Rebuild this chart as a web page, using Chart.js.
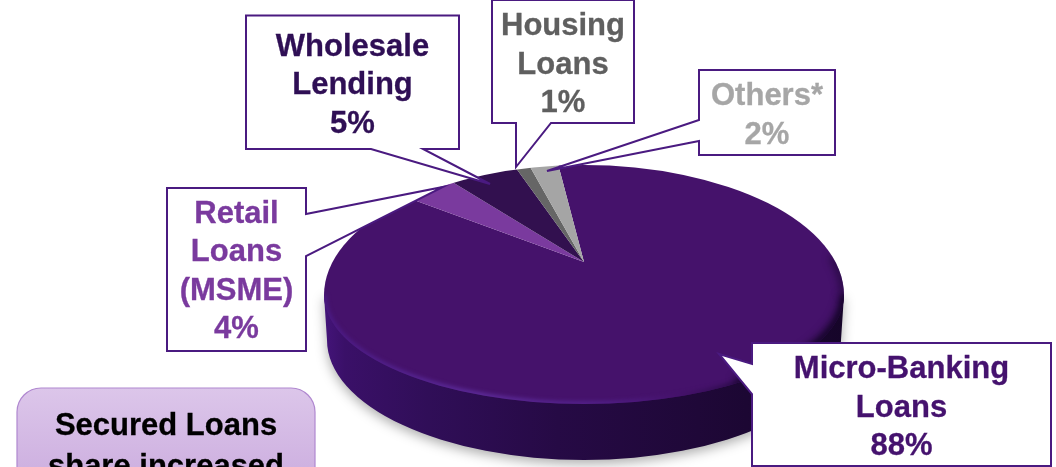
<!DOCTYPE html>
<html>
<head>
<meta charset="utf-8">
<style>
html,body{margin:0;padding:0;background:#fff;overflow:hidden}
canvas{display:block}
</style>
<script src="https://cdn.jsdelivr.net/npm/chart.js@4"></script>
</head>
<body>
<canvas id="c" width="1056" height="467"></canvas>
<script>
const categories = ["Micro-Banking Loans", "Retail Loans (MSME)", "Wholesale Lending", "Housing Loans", "Others*"];
const values = [88, 4, 5, 1, 2];
const sliceColors = ["#45126b", "#7a3a9e", "#32104f", "#666666", "#a5a5a5"];
const textColors = ["#45126e", "#7a3a9e", "#2f0f55", "#5f5f5f", "#a6a6a6"];
const labelLines = [["Micro-Banking", "Loans"], ["Retail", "Loans", "(MSME)"], ["Wholesale", "Lending"], ["Housing", "Loans"], ["Others*"]];
const noteLines = ["Secured Loans", "share increased"];

// Callout shapes: box corners, tail points, first baseline
const callouts = [
  {box:[752,343,1051,466], tail:[[752,364],[719,354],[752,394]], side:"left", base:378},
  {box:[167,188,306,351], tail:[[306,214],[443,187],[306,256]], side:"right", base:222.5},
  {box:[246,15.5,459,149], tail:[[371,149],[490,184],[423,149]], side:"bottom", base:55.5},
  {box:[492,0,634,123], tail:[[516,123],[516,167],[551,123]], side:"bottom", base:35},
  {box:[699,70,835,155], tail:[[699,120],[547,171],[699,141]], side:"left", base:105}
];

const FACE = {cx:584, cy:295, rx:260, ryTop:130, ryBottom:109};
const APEX = {x:584, y:262, squash:0.43};
const WALL = {cy:340, rx:257, ry:120};

function facePath(ctx){
  ctx.beginPath();
  ctx.ellipse(FACE.cx, FACE.cy, FACE.rx, FACE.ryTop, 0, Math.PI, 2*Math.PI);
  ctx.ellipse(FACE.cx, FACE.cy, FACE.rx, FACE.ryBottom, 0, 0, Math.PI);
  ctx.closePath();
}

function wall(ctx){
  const g = ctx.createLinearGradient(324,0,843,0);
  g.addColorStop(0,"#44147a");
  g.addColorStop(0.04,"#3a1068");
  g.addColorStop(0.2,"#300e58");
  g.addColorStop(0.45,"#260a45");
  g.addColorStop(0.72,"#1f0838");
  g.addColorStop(1,"#160529");
  ctx.save();
  ctx.shadowColor="rgba(0,0,0,0.32)";
  ctx.shadowBlur=12;
  ctx.shadowOffsetY=4;
  ctx.fillStyle=g;
  ctx.beginPath();
  ctx.moveTo(FACE.cx-FACE.rx, FACE.cy);
  ctx.lineTo(FACE.cx-WALL.rx, WALL.cy);
  ctx.ellipse(FACE.cx, WALL.cy, WALL.rx, WALL.ry, 0, Math.PI, 0, true);
  ctx.lineTo(FACE.cx+FACE.rx, FACE.cy);
  ctx.closePath();
  ctx.fill();
  ctx.restore();
}

function bevel(ctx){
  ctx.save();
  facePath(ctx);
  ctx.clip();
  ctx.filter="blur(2px)";
  const g = ctx.createLinearGradient(324,0,843,0);
  g.addColorStop(0,"#4a1a85");
  g.addColorStop(0.3,"#5f2e9e");
  g.addColorStop(0.55,"#52208a");
  g.addColorStop(0.68,"#45126b");
  g.addColorStop(0.8,"#2a0b48");
  g.addColorStop(1,"#160529");
  ctx.strokeStyle=g;
  ctx.lineWidth=5;
  ctx.beginPath();
  ctx.ellipse(FACE.cx, FACE.cy, FACE.rx, FACE.ryBottom, 0, 0, Math.PI);
  ctx.stroke();
  ctx.filter="blur(4px)";
  ctx.strokeStyle="#1a0630";
  ctx.lineWidth=9;
  ctx.beginPath();
  ctx.ellipse(FACE.cx, FACE.cy, FACE.rx, FACE.ryBottom, 0, 0, 0.95);
  ctx.stroke();
  ctx.lineWidth=5;
  ctx.beginPath();
  ctx.ellipse(FACE.cx, FACE.cy, FACE.rx, FACE.ryTop, 0, -0.3, 0);
  ctx.stroke();
  ctx.restore();
}

function drawCallout(ctx, i){
  const c = callouts[i];
  const [x0,y0,x1,y1] = c.box;
  const [a,t,b] = c.tail;
  ctx.save();
  ctx.beginPath();
  ctx.moveTo(x0,y0);
  if(c.side==="bottom"){
    ctx.lineTo(x1,y0);ctx.lineTo(x1,y1);
    ctx.lineTo(b[0],b[1]);ctx.lineTo(t[0],t[1]);ctx.lineTo(a[0],a[1]);
    ctx.lineTo(x0,y1);
  } else if(c.side==="right"){
    ctx.lineTo(x1,y0);
    ctx.lineTo(a[0],a[1]);ctx.lineTo(t[0],t[1]);ctx.lineTo(b[0],b[1]);
    ctx.lineTo(x1,y1);ctx.lineTo(x0,y1);
  } else {
    ctx.lineTo(x1,y0);ctx.lineTo(x1,y1);ctx.lineTo(x0,y1);
    ctx.lineTo(b[0],b[1]);ctx.lineTo(t[0],t[1]);ctx.lineTo(a[0],a[1]);
  }
  ctx.closePath();
  ctx.fillStyle="#fff";
  ctx.fill();
  ctx.strokeStyle="#4a1a80";
  ctx.lineWidth=2;
  ctx.lineJoin="miter";
  ctx.stroke();
  ctx.fillStyle=textColors[i];
  ctx.strokeStyle=textColors[i];
  ctx.lineWidth=0.3;
  ctx.font='bold 31px "Liberation Sans"';
  ctx.textAlign="center";
  ctx.textBaseline="alphabetic";
  const lines = labelLines[i].concat([values[i]+"%"]);
  const mx=(x0+x1)/2;
  lines.forEach((l,k)=>{
    ctx.fillText(l,mx,c.base+k*38.5);
    ctx.strokeText(l,mx,c.base+k*38.5);
  });
  ctx.restore();
}

function drawNote(ctx){
  const x=17,y=388,w=298,h=120,r=24;
  const g=ctx.createLinearGradient(0,388,0,467);
  g.addColorStop(0,"#dcc6ea");
  g.addColorStop(1,"#cfb2e1");
  ctx.save();
  ctx.beginPath();
  ctx.roundRect(x,y,w,h,r);
  ctx.fillStyle=g;
  ctx.fill();
  ctx.strokeStyle="#b088d0";
  ctx.lineWidth=1.2;
  ctx.stroke();
  ctx.fillStyle="#000";
  ctx.strokeStyle="#000";
  ctx.lineWidth=0.3;
  ctx.font='bold 31px "Liberation Sans"';
  ctx.textAlign="center";
  noteLines.forEach((l,k)=>{
    ctx.fillText(l,166,435+k*41);
    ctx.strokeText(l,166,435+k*41);
  });
  ctx.restore();
}

const pie3d = {
  id:"pie3d",
  beforeDatasetsDraw(chart){
    const ctx=chart.ctx;
    wall(ctx);
    const el=chart.getDatasetMeta(0).data[0];
    ctx.save();
    facePath(ctx);
    ctx.clip();
    ctx.translate(APEX.x,APEX.y);
    ctx.scale(1,APEX.squash);
    ctx.translate(-el.x,-el.y);
  },
  afterDatasetsDraw(chart){
    const ctx=chart.ctx;
    ctx.restore();
    bevel(ctx);
    drawNote(ctx);
    [1,2,3,4,0].forEach(i=>drawCallout(ctx,i));
  }
};

new Chart(document.getElementById("c"),{
  type:"pie",
  data:{
    labels:categories,
    datasets:[{data:values, backgroundColor:sliceColors, borderWidth:0, clip:false}]
  },
  options:{
    responsive:false,
    animation:false,
    rotation:-6.5,
    radius:345,
    layout:{padding:0},
    plugins:{legend:{display:false},tooltip:{enabled:false}}
  },
  plugins:[pie3d]
});
</script>
</body>
</html>
